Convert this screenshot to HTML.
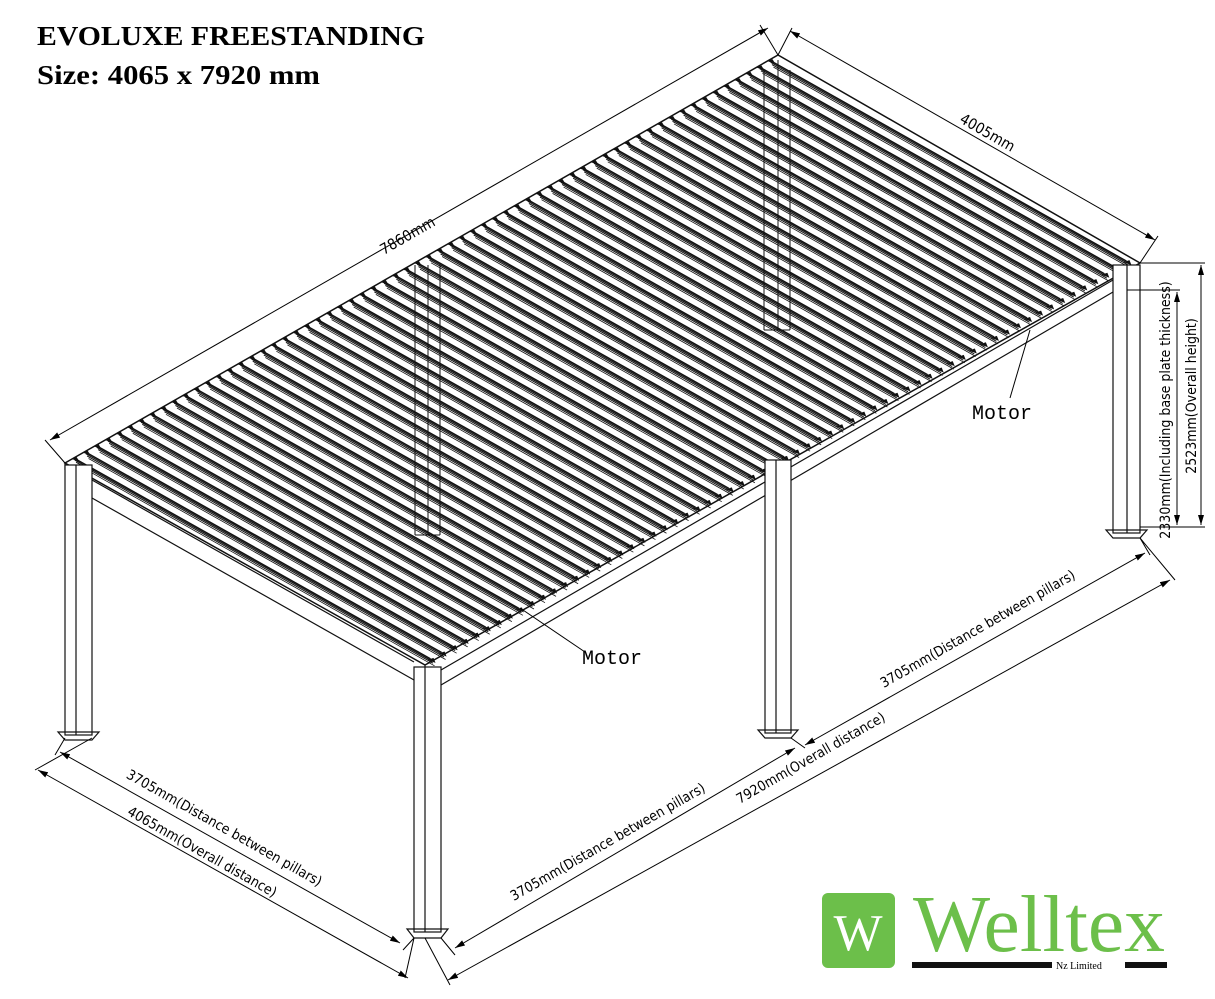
<!DOCTYPE html>
<html><head><meta charset="utf-8"><style>
body{margin:0;background:#fff;width:1215px;height:999px;overflow:hidden}
svg{display:block}
</style></head><body>
<svg id="s" width="1215" height="999" viewBox="0 0 1215 999" xmlns="http://www.w3.org/2000/svg" font-family="Liberation Sans, sans-serif">
<defs><marker id="a" viewBox="0 0 10 6" refX="10" refY="3" markerWidth="10" markerHeight="6" orient="auto-start-reverse"><path d="M0,0L10,3L0,6z" fill="#000"/></marker></defs>
<text x="37" y="45" font-family="Liberation Serif, serif" font-weight="bold" font-size="27" textLength="388" lengthAdjust="spacingAndGlyphs">EVOLUXE FREESTANDING</text>
<text x="37" y="84" font-family="Liberation Serif, serif" font-weight="bold" font-size="27" textLength="283" lengthAdjust="spacingAndGlyphs">Size: 4065 x 7920 mm</text>
<g id="slats" stroke="#111" fill="none"></g>
<g stroke="#111" stroke-width="1.2" fill="none">
<path d="M65,463 L778,55 L1140,263 L425,665 Z" stroke-width="1.5"/>
<path d="M92,480 L414,662 M92,498 L414,680 M441,685 L1113,292 M441,670 L1113,280"/>
<path d="M65,463 L65,470 M425,665 L425,672"/>
<rect x="65" y="465" width="27" height="270" fill="#fff"/>
<line x1="76" y1="465" x2="76" y2="735"/>
<rect x="414" y="667" width="27" height="265" fill="#fff"/>
<line x1="425" y1="667" x2="425" y2="932"/>
<rect x="765" y="460" width="26" height="273" fill="#fff"/>
<line x1="776" y1="460" x2="776" y2="733"/>
<rect x="1113" y="265" width="27" height="268" fill="#fff"/>
<line x1="1127" y1="265" x2="1127" y2="533"/>
<path d="M415,265 L415,535 M428,265 L428,535 M440,265 L440,535 M415,535 L440,535" stroke-width="1"/>
<path d="M764,70 L764,330 M778,60 L778,330 M790,70 L790,330 M764,330 L790,330" stroke-width="1"/>
<path d="M58,732 L99,732 L92,740 L65,740 Z M407,929 L448,929 L441,938 L414,938 Z M758,730 L798,730 L791,738 L765,738 Z M1106,530 L1147,530 L1140,538 L1113,538 Z"/>
</g>
<g stroke="#000" stroke-width="1" fill="none">
<path d="M65,463 L45,440 M778,55 L760,25"/>
<line x1="50" y1="440" x2="768" y2="28" marker-start="url(#a)" marker-end="url(#a)"/>
<path d="M778,55 L792,28 M1140,263 L1158,236"/>
<line x1="790" y1="31" x2="1155" y2="240" marker-start="url(#a)" marker-end="url(#a)"/>
<path d="M1140,263 L1205,263 M1127,290 L1180,290 M1140,527 L1205,527"/>
<line x1="1177" y1="292" x2="1177" y2="525" marker-start="url(#a)" marker-end="url(#a)"/>
<line x1="1201" y1="265" x2="1201" y2="525" marker-start="url(#a)" marker-end="url(#a)"/>
<path d="M65,738 L55,755 M92,738 L35,770 M414,938 L403,950 M414,938 L405,978"/>
<line x1="60" y1="752" x2="400" y2="943" marker-start="url(#a)" marker-end="url(#a)"/>
<line x1="38" y1="770" x2="408" y2="978" marker-start="url(#a)" marker-end="url(#a)"/>
<path d="M441,938 L455,955 M425,938 L450,985 M791,738 L805,748 M1140,538 L1175,580 M1140,538 L1150,555"/>
<line x1="455" y1="948" x2="795" y2="748" marker-start="url(#a)" marker-end="url(#a)"/>
<line x1="448" y1="980" x2="1170" y2="580" marker-start="url(#a)" marker-end="url(#a)"/>
<line x1="805" y1="745" x2="1145" y2="553" marker-start="url(#a)" marker-end="url(#a)"/>
<line x1="520" y1="608" x2="585" y2="652"/>
<line x1="1030" y1="330" x2="1010" y2="398"/>
</g>
<g font-family="DejaVu Sans Condensed, Liberation Sans Narrow, sans-serif" font-size="15" fill="#000">
<text transform="translate(410,240) rotate(-29.8)" text-anchor="middle">7860mm</text>
<text transform="translate(985,137) rotate(29.8)" text-anchor="middle">4005mm</text>
<text transform="translate(1170,410) rotate(-90)" text-anchor="middle" font-size="14">2330mm(Including base plate thickness)</text>
<text transform="translate(1196,396) rotate(-90)" text-anchor="middle" font-size="14">2523mm(Overall height)</text>
<text transform="translate(222,832) rotate(29.5)" text-anchor="middle" font-size="14">3705mm(Distance between pillars)</text>
<text transform="translate(200,856) rotate(29.5)" text-anchor="middle" font-size="14">4065mm(Overall distance)</text>
<text transform="translate(610,846) rotate(-29.8)" text-anchor="middle" font-size="14">3705mm(Distance between pillars)</text>
<text transform="translate(813,762) rotate(-29.8)" text-anchor="middle" font-size="14">7920mm(Overall distance)</text>
<text transform="translate(980,633) rotate(-29.8)" text-anchor="middle" font-size="14">3705mm(Distance between pillars)</text>
</g>
<text x="582" y="664" font-family="Liberation Mono, monospace" font-size="20">Motor</text>
<text x="972" y="419" font-family="Liberation Mono, monospace" font-size="20">Motor</text>
<rect x="822" y="893" width="73" height="75" rx="6" fill="#6cbf4a"/>
<text x="858" y="950" text-anchor="middle" font-family="Liberation Serif, serif" font-size="52" fill="#fff">W</text>
<text x="913" y="951" font-family="Liberation Serif, serif" font-size="80" fill="#6cbf4a" textLength="252" lengthAdjust="spacingAndGlyphs">Welltex</text>
<rect x="912" y="962" width="140" height="6" fill="#111"/>
<text x="1056" y="969" font-family="Liberation Serif, serif" font-size="10">Nz Limited</text>
<rect x="1125" y="962" width="42" height="6" fill="#111"/>
</svg>
<script>
var g=document.getElementById('slats'),N=64,L=[68,461],T=[775,57],d=[357,201],h='';
for(var i=0;i<N;i++){var t=(i+0.5)/N,x=L[0]+t*(T[0]-L[0]),y=L[1]+t*(T[1]-L[1]);
for(var k=0;k<4;k++){var o=[0,2.5,5,8][k],w=[1.5,1.1,1,0.8][k];
var xx=x+o*0.5,yy=y+o*0.87;
h+='<line x1="'+xx+'" y1="'+yy+'" x2="'+(xx+d[0])+'" y2="'+(yy+d[1])+'" stroke-width="'+w+'"/>';}
h+='<path d="M'+(x-2)+','+(y+1)+'l5,-2l3,5z" fill="#111" stroke="none"/>';
h+='<path d="M'+(x+d[0]-3)+','+(y+d[1]+1)+'l6,-2l2,5z" fill="#111" stroke="none"/>';}
g.innerHTML=h;
</script>
</body></html>
